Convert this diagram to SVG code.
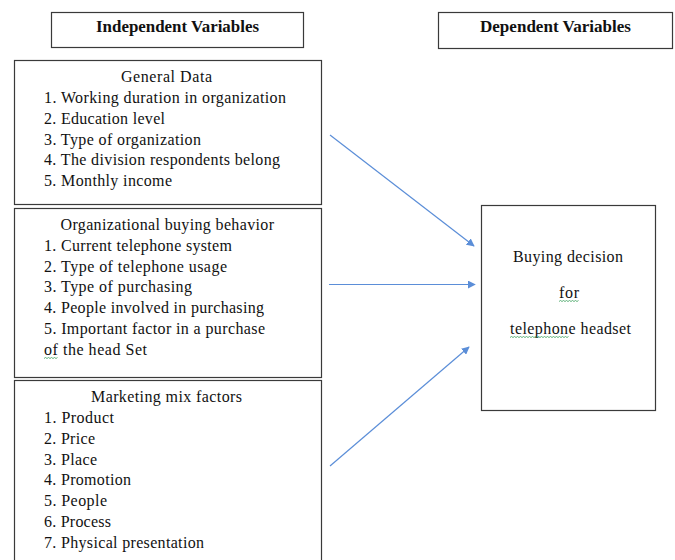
<svg xmlns="http://www.w3.org/2000/svg" width="675" height="560" viewBox="0 0 675 560">
<defs>
<style>
text{font-family:'Liberation Serif','Times New Roman','DejaVu Serif',serif;font-size:16px;fill:#111}
.h{font-weight:bold}
.c{text-anchor:middle}
.box{fill:#fff;stroke:#3a3a3a;stroke-width:1.2}
.conn{stroke:#5b8ed8;stroke-width:1.2;fill:none;marker-end:url(#ah)}
.sq{stroke:#3aa05a;stroke-width:0.8;fill:none}
</style>
<marker id="ah" viewBox="0 0 10 10" refX="9" refY="5" markerWidth="8" markerHeight="8" orient="auto" markerUnits="userSpaceOnUse">
<path d="M0,0 L10,5 L0,10 z" fill="#5b8ed8"/>
</marker>
</defs>
<rect width="675" height="560" fill="#fff"/>
<g id="hdr-independent">
<rect class="box" x="51.5" y="12.5" width="252" height="35"/>
<text class="h" x="96" y="32" textLength="163" lengthAdjust="spacingAndGlyphs">Independent Variables</text>
</g>
<g id="hdr-dependent">
<rect class="box" x="438.5" y="12.5" width="234" height="36"/>
<text class="h" x="480" y="32" textLength="151" lengthAdjust="spacingAndGlyphs">Dependent Variables</text>
</g>
<g id="general-data">
<rect class="box" x="14.5" y="60.5" width="307" height="144"/>
<text x="121" y="82" textLength="91">General Data</text>
<text x="44" y="103" textLength="242">1. Working duration in organization</text>
<text x="44" y="124" textLength="121">2. Education level</text>
<text x="44" y="145" textLength="157">3. Type of organization</text>
<text x="44" y="165" textLength="236">4. The division respondents belong</text>
<text x="44" y="186" textLength="128">5. Monthly income</text>
</g>
<g id="org-buying">
<rect class="box" x="14.5" y="208.5" width="307" height="169"/>
<text x="60.5" y="230" textLength="213.5">Organizational buying behavior</text>
<text x="44" y="251" textLength="188">1. Current telephone system</text>
<text x="44" y="272" textLength="183">2. Type of telephone usage</text>
<text x="44" y="292" textLength="148">3. Type of purchasing</text>
<text x="44" y="313" textLength="220">4. People involved in purchasing</text>
<text x="44" y="334" textLength="221">5. Important factor in a purchase</text>
<text x="44" y="355" textLength="103">of the head Set</text>
<path class="sq" d="M44,358.5 l1.5,-1 l1.5,1 l1.5,-1 l1.5,1 l1.5,-1 l1.5,1 l1.5,-1 l1.5,1 l1.5,-1"/>
</g>
<g id="marketing-mix">
<rect class="box" x="14.5" y="380.5" width="307" height="190"/>
<text x="91" y="402" textLength="151">Marketing mix factors</text>
<text x="44" y="423" textLength="70">1. Product</text>
<text x="44" y="444" textLength="51">2. Price</text>
<text x="44" y="465" textLength="53">3. Place</text>
<text x="44" y="485" textLength="87">4. Promotion</text>
<text x="44" y="506" textLength="63">5. People</text>
<text x="44" y="527" textLength="67">6. Process</text>
<text x="44" y="548" textLength="160">7. Physical presentation</text>
</g>
<g id="buying-decision">
<rect class="box" x="481.5" y="205.5" width="174" height="205"/>
<text x="513" y="262" textLength="110">Buying decision</text>
<text x="559" y="298" textLength="20">for</text>
<path class="sq" d="M559,301.5 l1.5,-1 l1.5,1 l1.5,-1 l1.5,1 l1.5,-1 l1.5,1 l1.5,-1 l1.5,1 l1.5,-1 l1.5,1 l1.5,-1 l1.5,1 l1.5,-1"/>
<text x="510" y="334" textLength="121">telephone headset</text>
<path class="sq" d="M510,337.5 l1.5,-1 l1.5,1 l1.5,-1 l1.5,1 l1.5,-1 l1.5,1 l1.5,-1 l1.5,1 l1.5,-1 l1.5,1 l1.5,-1 l1.5,1 l1.5,-1 l1.5,1 l1.5,-1 l1.5,1 l1.5,-1 l1.5,1 l1.5,-1 l1.5,1 l1.5,-1 l1.5,1 l1.5,-1 l1.5,1 l1.5,-1 l1.5,1 l1.5,-1 l1.5,1 l1.5,-1 l1.5,1 l1.5,-1 l1.5,1 l1.5,-1 l1.5,1 l1.5,-1 l1.5,1 l1.5,-1 l1.5,1 l1.5,-1"/>
</g>
<g id="connectors">
<line class="conn" x1="330" y1="135" x2="474" y2="246"/>
<line class="conn" x1="329" y1="284.5" x2="475" y2="284.5"/>
<line class="conn" x1="330" y1="466" x2="469" y2="347"/>
</g>
</svg>
